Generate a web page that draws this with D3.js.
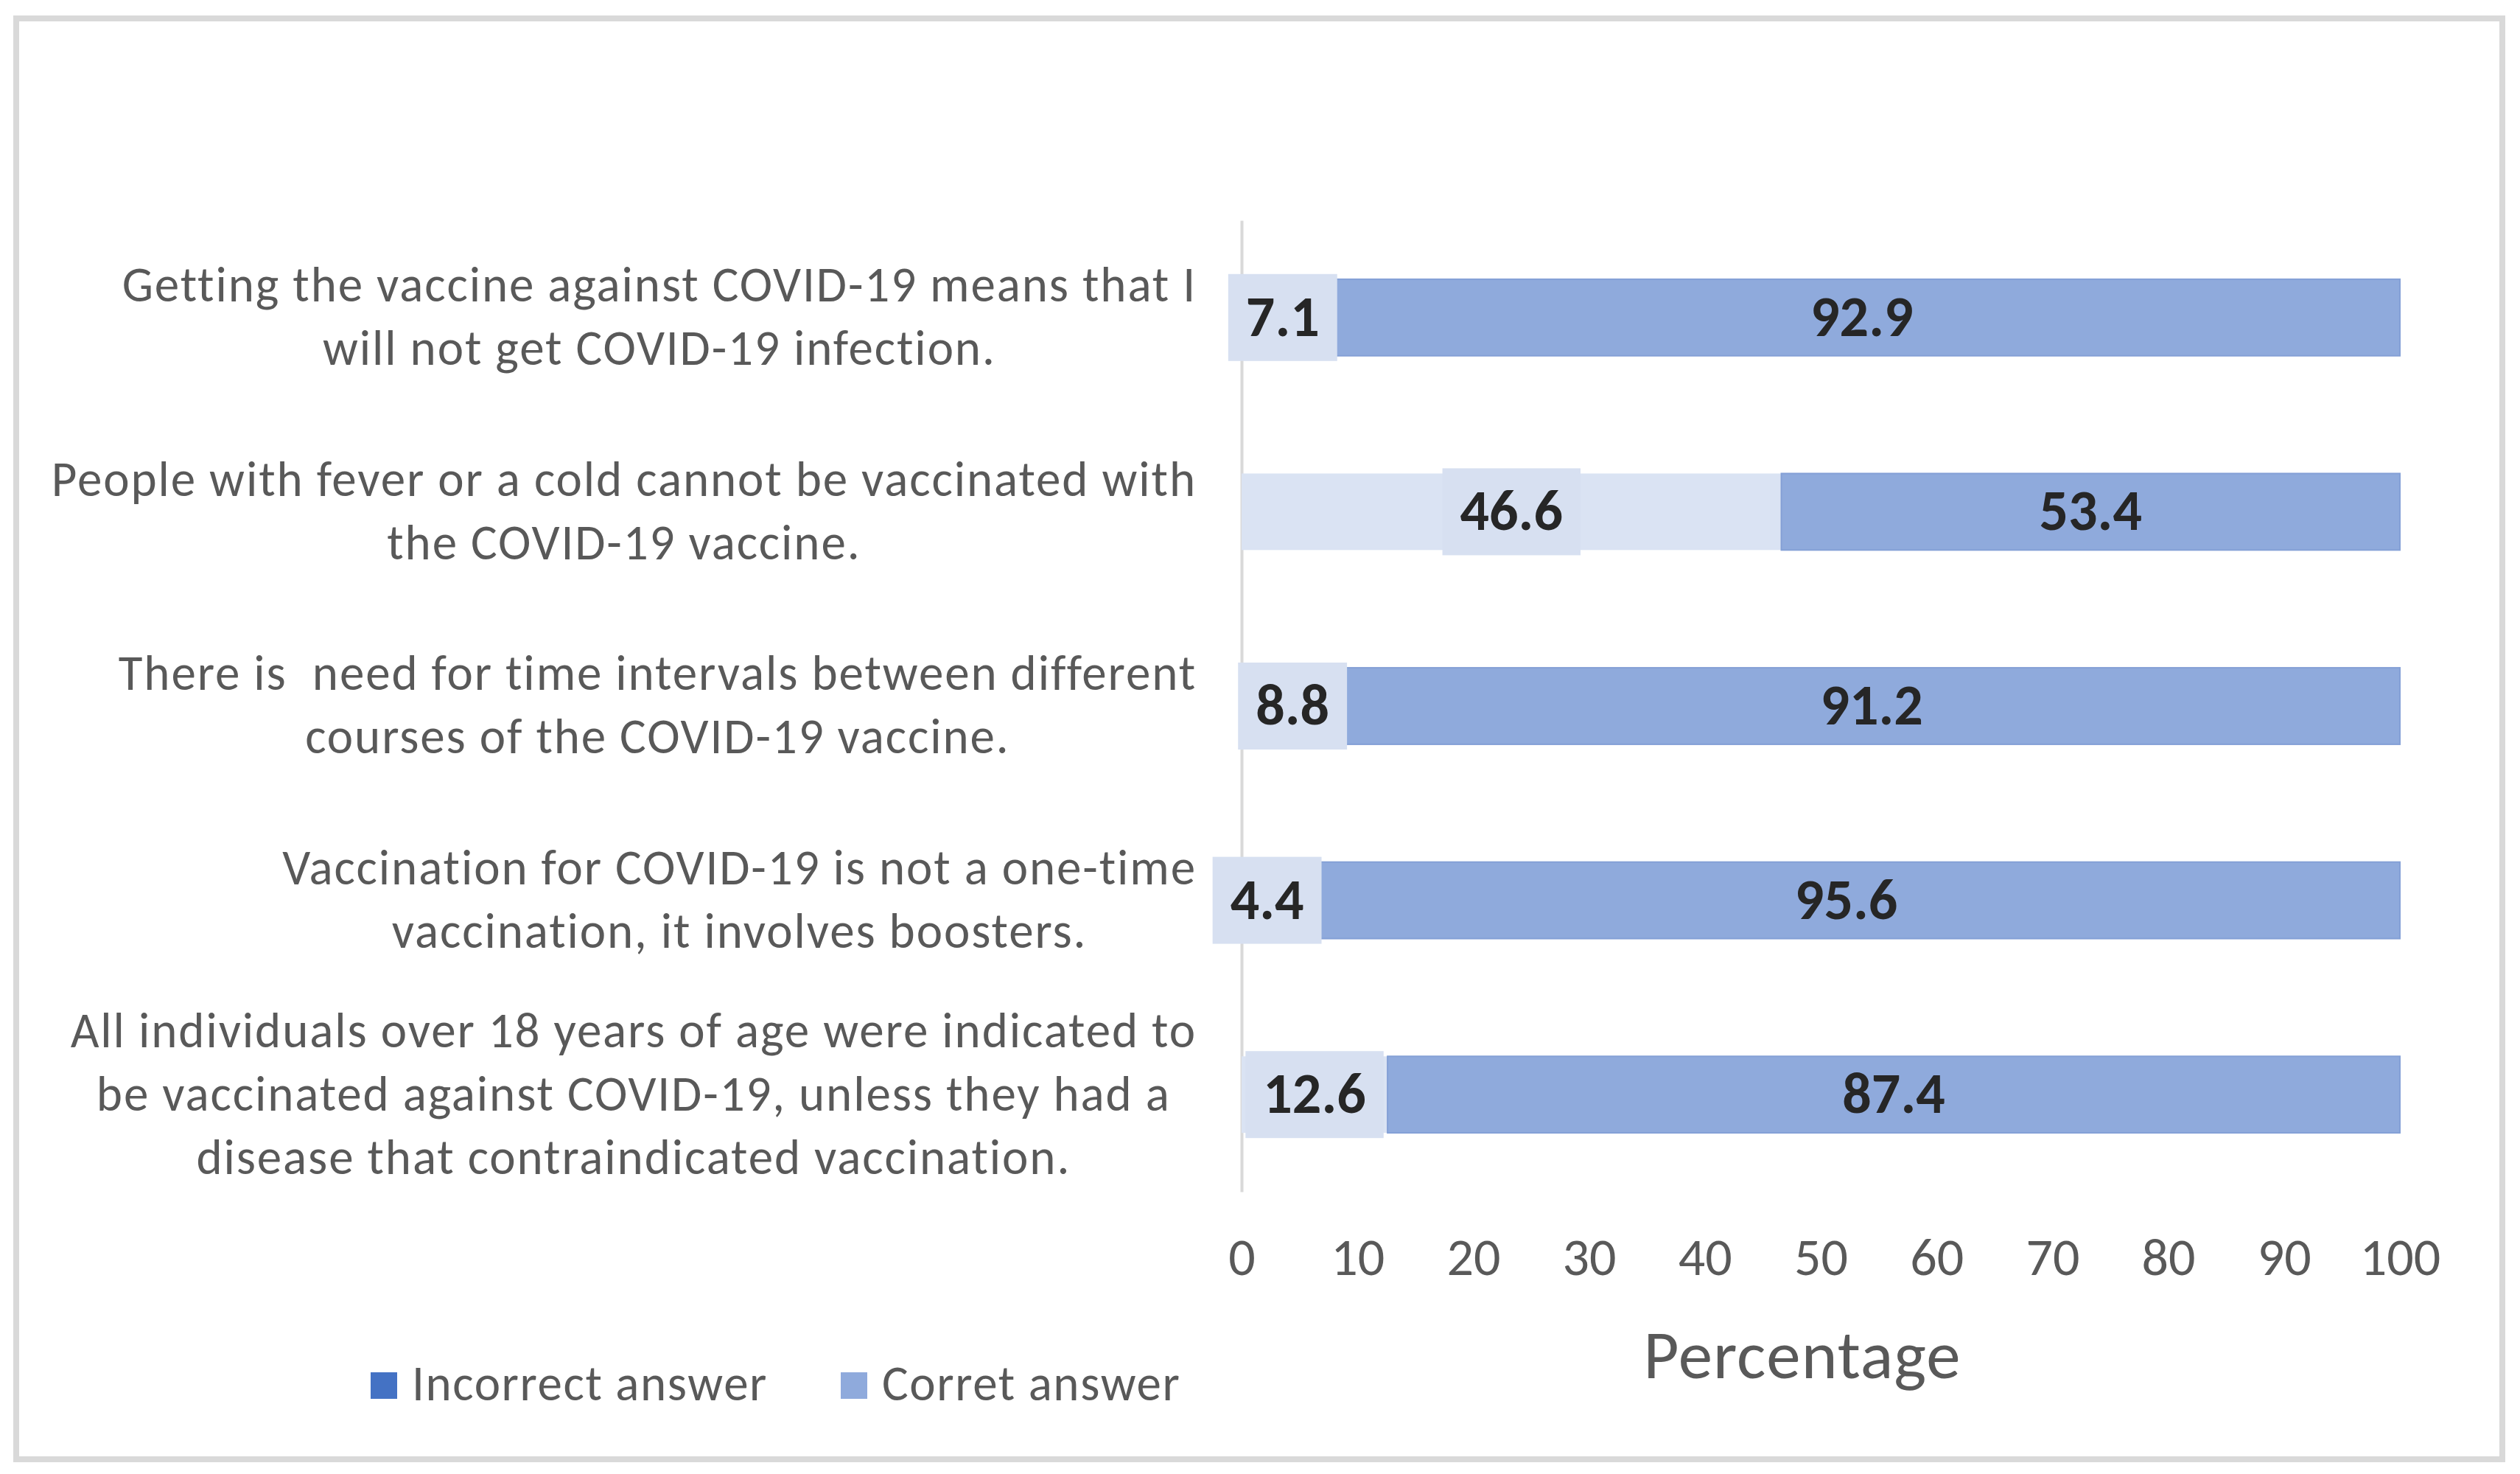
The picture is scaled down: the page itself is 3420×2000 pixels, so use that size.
<!DOCTYPE html>
<html>
<head>
<meta charset="utf-8">
<script src="https://cdn.jsdelivr.net/npm/d3@7"></script>
<style>
  html, body { margin: 0; padding: 0; background: #fff; }
  svg text { font-family: Carlito, "Liberation Sans Narrow", Lato, sans-serif; }
</style>
</head>
<body>
<div id="chart"></div>
<script>
// wrapped the same way as the picture
var categories = [
  ["Getting the vaccine against COVID-19 means that I", "will not get COVID-19 infection."],
  ["People with fever or a cold cannot be vaccinated with", "the COVID-19 vaccine."],
  ["There is\u00a0 need for time intervals between different", "courses of the COVID-19 vaccine."],
  ["Vaccination for COVID-19 is not a one-time", "vaccination, it involves boosters."],
  ["All individuals over 18 years of age were indicated to", "be vaccinated against COVID-19, unless they had a", "disease that contraindicated vaccination."]
];

var incorrect = [7.1, 46.6, 8.8, 4.4, 12.6];
var correct   = [92.9, 53.4, 91.2, 95.6, 87.4];

var series_names = ["Incorrect answer", "Corret answer"];
var x_ticks = [0, 10, 20, 30, 40, 50, 60, 70, 80, 90, 100];
var x_title = "Percentage";

var chart = {
  width: 3420,
  height: 2000,
  left: 1685,
  right: 3257,
  top: 299,
  bottom: 1617
};

var colors = {
  incorrect_bar: "#dae3f3",
  incorrect_box: "#d7e0f1",
  correct_bar:   "#8faadc",
  legend_incorrect: "#4472c4",
  text: "#595959",
  label: "#262626",
  frame: "#d9d9d9"
};

var rows = categories.map(function(lines, i) {
  return {
    id: i,
    lines: lines,
    incorrect: incorrect[i],
    correct: correct[i]
  };
});

var svg = d3.select("#chart").append("svg")
  .attr("width", chart.width)
  .attr("height", chart.height);

svg.append("rect")
  .attr("x", 22).attr("y", 25)
  .attr("width", 3374).attr("height", 1955)
  .style("fill", "#fff")
  .style("stroke", colors.frame)
  .style("stroke-width", 8);

var x = d3.scaleLinear()
  .domain([0, 100])
  .range([chart.left, chart.right]);

var y = d3.scaleBand()
  .domain(rows.map(function(d) { return d.id; }))
  .range([chart.top, chart.bottom])
  .paddingInner(0.606)
  .paddingOuter(0.303);

// vertical axis line, no ticks (under the bars and labels)
var y_axis = svg.append("g")
  .attr("transform", "translate(" + x(0) + ",0)")
  .call(d3.axisLeft(y).tickSize(0).tickFormat(""));
y_axis.select(".domain")
  .style("stroke", colors.frame)
  .style("stroke-width", 4);

// bars
var bar = svg.append("g").selectAll("g")
  .data(rows)
  .enter().append("g");

bar.append("rect")
  .attr("x", function(d) { return x(0); })
  .attr("y", function(d) { return y(d.id); })
  .attr("width", function(d) { return x(d.incorrect) - x(0); })
  .attr("height", y.bandwidth())
  .style("fill", colors.incorrect_bar);

bar.append("rect")
  .attr("x", function(d) { return x(d.incorrect); })
  .attr("y", function(d) { return y(d.id); })
  .attr("width", function(d) { return x(d.incorrect + d.correct) - x(d.incorrect); })
  .attr("height", y.bandwidth())
  .style("fill", colors.correct_bar)
  .style("stroke", "#84a0d6")
  .style("stroke-width", 2);

// data labels
var label_size = 78;

bar.each(function(d) {
  var g = d3.select(this);
  var cy = y(d.id) + y.bandwidth() / 2;

  var t_in = g.append("text")
    .attr("x", x(d.incorrect / 2))
    .attr("y", cy + label_size * 0.32)
    .attr("text-anchor", "middle")
    .style("font-size", label_size + "px")
    .style("font-weight", "bold")
    .style("fill", colors.label)
    .text(d3.format(".1f")(d.incorrect));

  var w = t_in.node().getComputedTextLength() + 48;
  g.insert("rect", "text")
    .attr("x", x(d.incorrect / 2) - w / 2)
    .attr("y", cy - 59)
    .attr("width", w)
    .attr("height", 118)
    .style("fill", colors.incorrect_box);

  g.append("text")
    .attr("x", x(d.incorrect + d.correct / 2))
    .attr("y", cy + label_size * 0.32)
    .attr("text-anchor", "middle")
    .style("font-size", label_size + "px")
    .style("font-weight", "bold")
    .style("fill", colors.label)
    .text(d3.format(".1f")(d.correct));
});

// category labels, lines centred, block right aligned to the plot
var cat_size = 67;
var line_gap = 86;
var cat_right = 1624;

rows.forEach(function(d) {
  var cy = y(d.id) + y.bandwidth() / 2;
  var g = svg.append("g");
  var n = d.lines.length;

  var texts = d.lines.map(function(line, k) {
    return g.append("text")
      .attr("y", cy + (k - (n - 1) / 2) * line_gap + cat_size * 0.32)
      .attr("text-anchor", "middle")
      .style("font-size", cat_size + "px")
      .style("letter-spacing", "1.9px")
      .style("fill", colors.text)
      .text(line);
  });

  var widest = d3.max(texts, function(t) { return t.node().getComputedTextLength(); });
  texts.forEach(function(t) { t.attr("x", cat_right - widest / 2); });
});

// x axis
var x_axis = svg.append("g")
  .attr("transform", "translate(0,1730)")
  .call(d3.axisBottom(x).tickValues(x_ticks).tickSize(0).tickPadding(0));

x_axis.select(".domain").remove();
x_axis.selectAll("text")
  .attr("y", 0)
  .attr("dy", null)
  .style("font-size", "72px")
  .style("fill", colors.text);

svg.append("text")
  .attr("x", 2446)
  .attr("y", 1870)
  .attr("text-anchor", "middle")
  .style("font-size", "93px")
  .style("letter-spacing", "1px")
  .style("fill", colors.text)
  .text(x_title);

// legend
var legend = svg.append("g")
  .attr("transform", "translate(503,1862)");

var legend_items = [
  { name: series_names[0], color: colors.legend_incorrect, x: 0 },
  { name: series_names[1], color: colors.correct_bar, x: 638 }
];

legend.selectAll("rect")
  .data(legend_items)
  .enter().append("rect")
  .attr("x", function(d) { return d.x; })
  .attr("y", 0)
  .attr("width", 36)
  .attr("height", 36)
  .style("fill", function(d) { return d.color; });

legend.selectAll("text")
  .data(legend_items)
  .enter().append("text")
  .attr("x", function(d) { return d.x + 56; })
  .attr("y", 38)
  .style("font-size", "67px")
  .style("letter-spacing", "1.6px")
  .style("fill", colors.text)
  .text(function(d) { return d.name; });
</script>
</body>
</html>
